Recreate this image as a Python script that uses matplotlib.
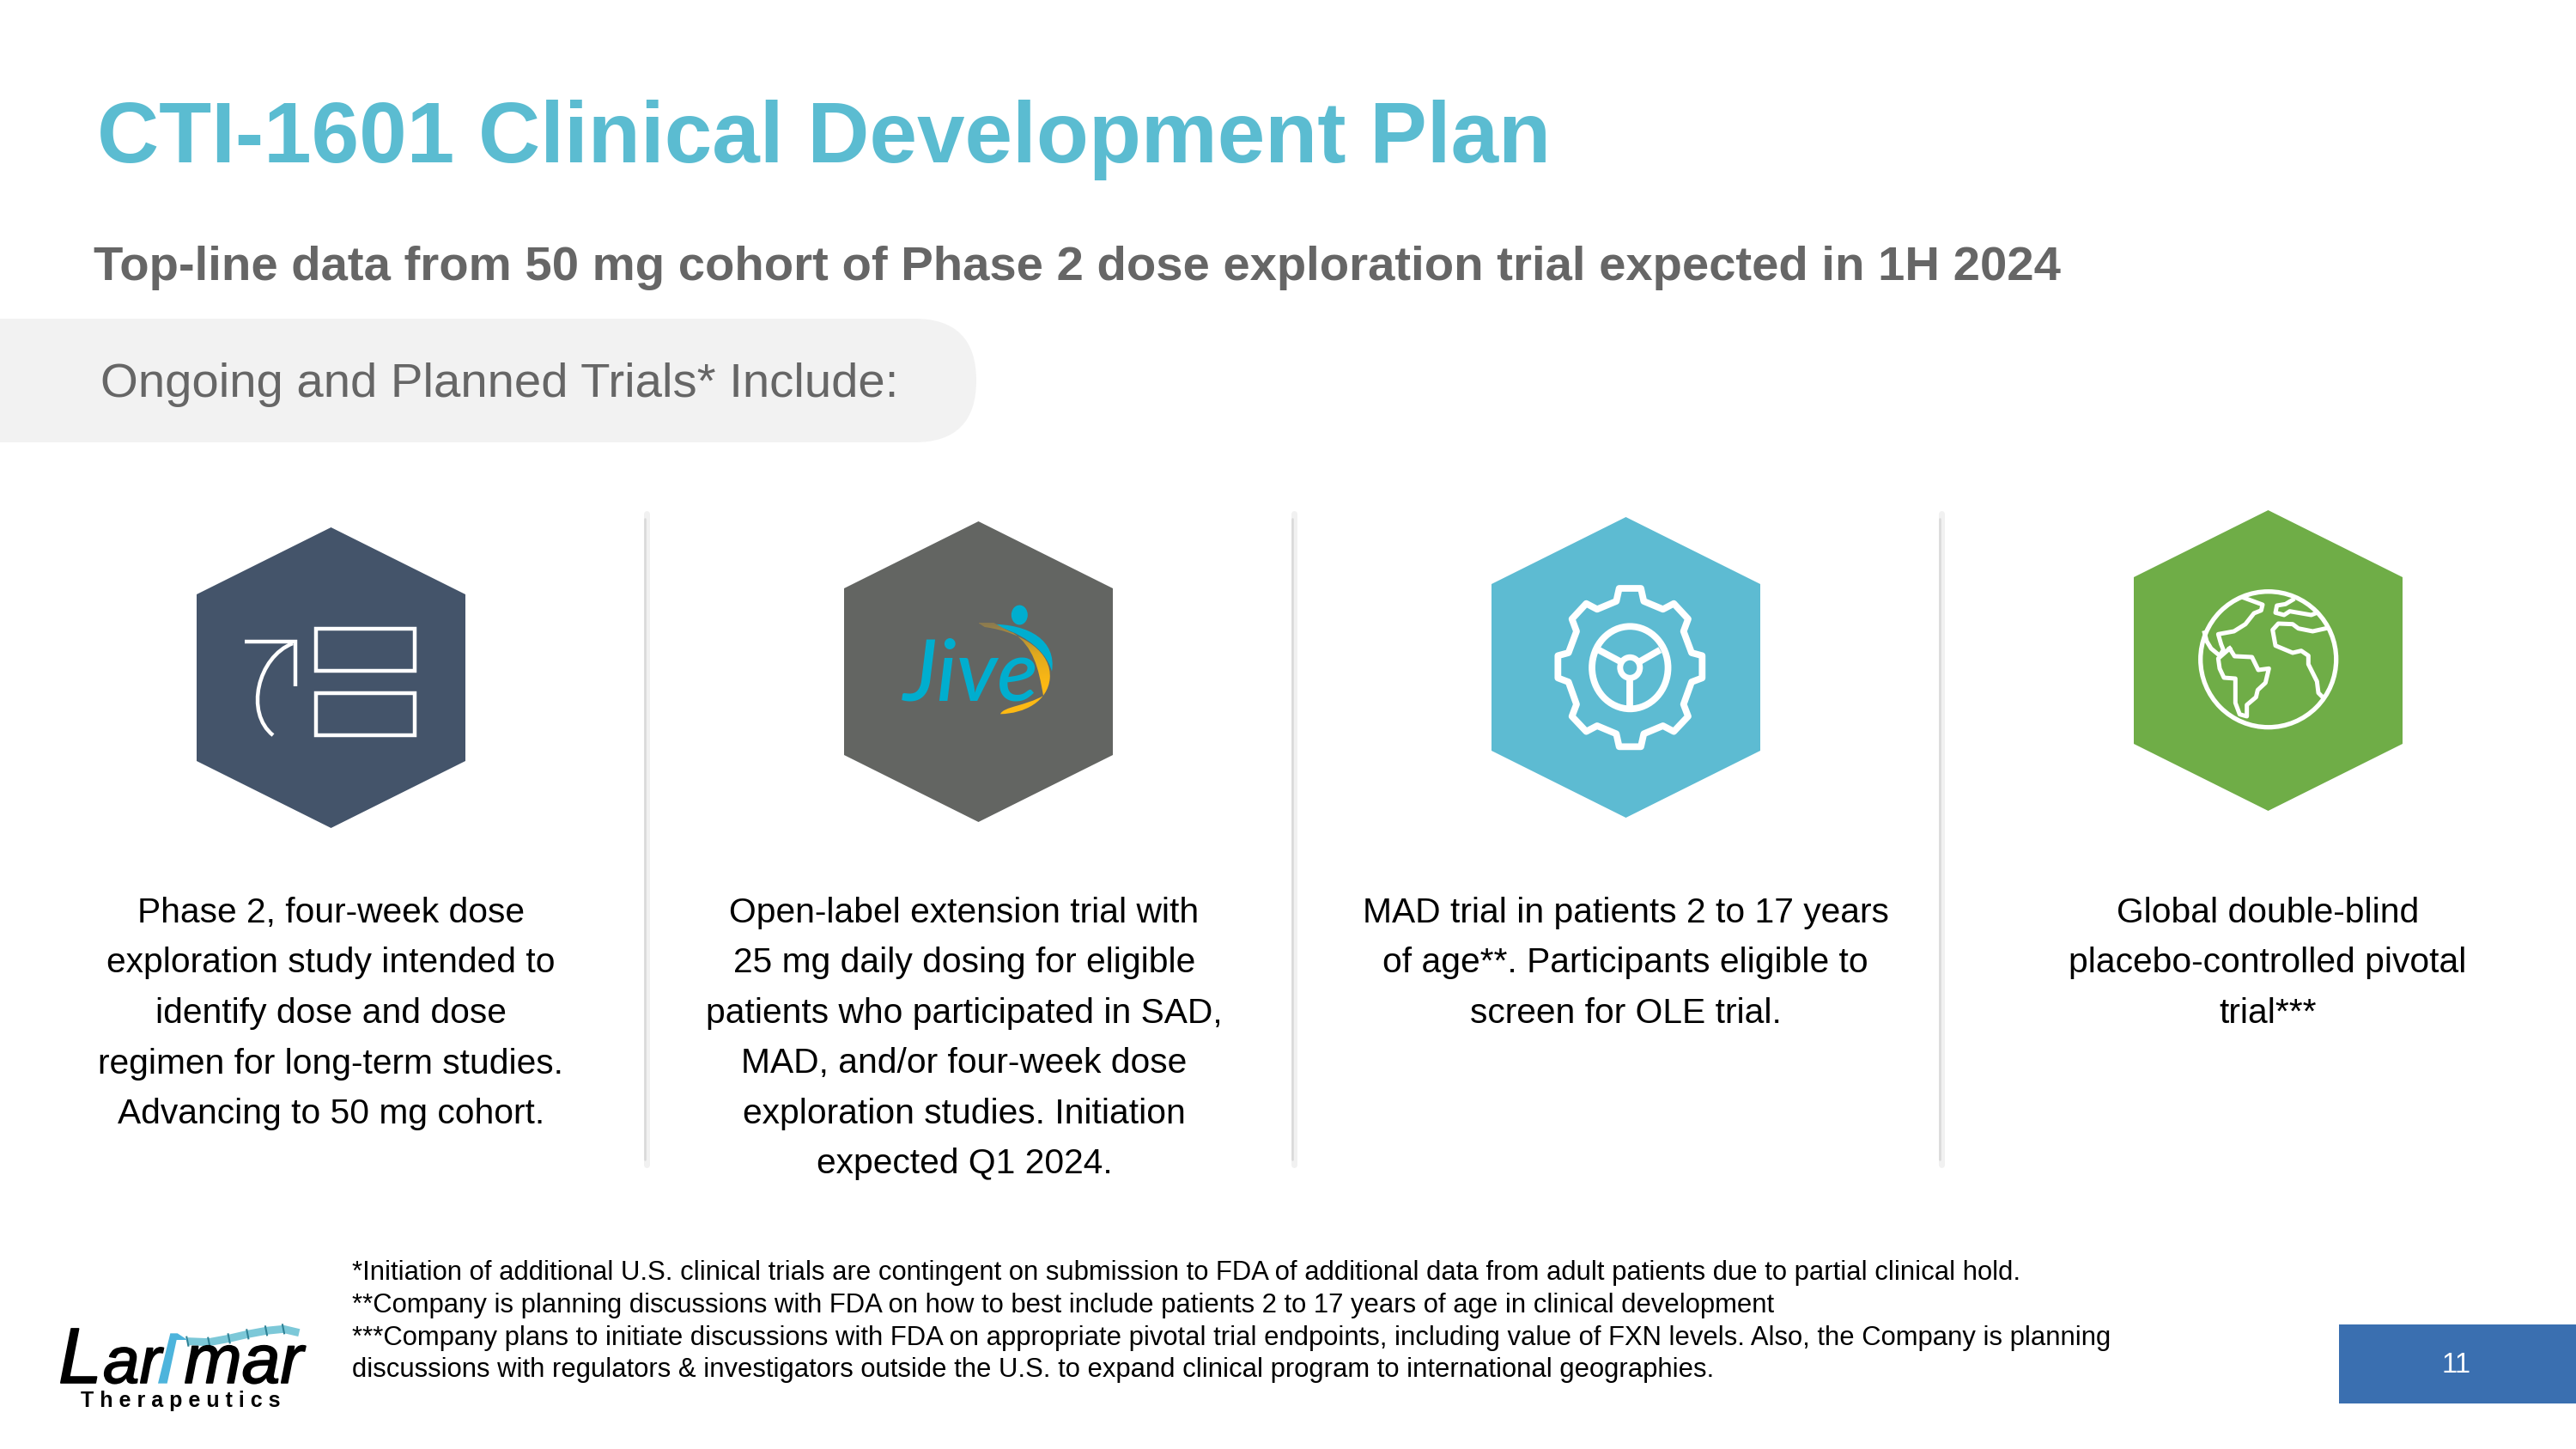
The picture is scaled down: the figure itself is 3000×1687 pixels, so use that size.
import numpy as np
import matplotlib
matplotlib.use('Agg')
import matplotlib.pyplot as plt
import matplotlib.patheffects as pe
from matplotlib.patches import Polygon, Ellipse, PathPatch, Rectangle, Circle
from matplotlib.path import Path
from matplotlib.colors import LinearSegmentedColormap

title = "CTI-1601 Clinical Development Plan"
subtitle = "Top-line data from 50 mg cohort of Phase 2 dose exploration trial expected in 1H 2024"
pill_text = "Ongoing and Planned Trials* Include:"
col1 = ["Phase 2, four-week dose", "exploration study intended to", "identify dose and dose",
        "regimen for long-term studies.", "Advancing to 50 mg cohort."]
col2 = ["Open-label extension trial with", "25 mg daily dosing for eligible",
        "patients who participated in SAD,", "MAD, and/or four-week dose",
        "exploration studies. Initiation", "expected Q1 2024."]
col3 = ["MAD trial in patients 2 to 17 years", "of age**. Participants eligible to", "screen for OLE trial."]
col4 = ["Global double-blind", "placebo-controlled pivotal", "trial***"]
notes = ["*Initiation of additional U.S. clinical trials are contingent on submission to FDA of additional data from adult patients due to partial clinical hold.",
         "**Company is planning discussions with FDA on how to best include patients 2 to 17 years of age in clinical development",
         "***Company plans to initiate discussions with FDA on appropriate pivotal trial endpoints, including value of FXN levels. Also, the Company is planning",
         "discussions with regulators & investigators outside the U.S. to expand clinical program to international geographies."]
page_no = "11"

plt.rcParams['font.family'] = ['Liberation Sans', 'DejaVu Sans']

fig = plt.figure(figsize=(30, 16.87), dpi=100)
ax = fig.add_axes([0, 0, 1, 1])
ax.set_xlim(0, 3000)
ax.set_ylim(1687, 0)
ax.axis('off')

GREY = '#666666'

# heading
ax.text(113, 189, title, fontsize=71.9, fontweight='bold', color='#5BBCD1', va='baseline')
ax.text(109, 326, subtitle, fontsize=40.5, fontweight='bold', color=GREY, va='baseline')

# pill behind the third line
pill = Path([(0, 371), (1065, 371), (1137, 371), (1137, 443), (1137, 515), (1065, 515), (0, 515), (0, 371)],
            [Path.MOVETO, Path.LINETO, Path.CURVE3, Path.CURVE3, Path.CURVE3, Path.CURVE3, Path.LINETO, Path.CLOSEPOLY])
ax.add_patch(PathPatch(pill, fc='#F2F2F2', ec='none'))
ax.text(117, 462, pill_text, fontsize=40.6, color=GREY, va='baseline')

# separators, soft shadowed rules
for x in [752, 1506, 2260]:
    ax.plot([x + 1, x + 1], [598, 1356], color='#F1F1F1', lw=5, solid_capstyle='round')
    ax.plot([x - 1, x - 1], [604, 1350], color='#D9D9D9', lw=1.8, solid_capstyle='round')

# hexagons
def hexagon(xl, xr, top, color):
    xc = (xl + xr) / 2
    pts = [(xc, top), (xr, top + 78), (xr, top + 272), (xc, top + 350), (xl, top + 272), (xl, top + 78)]
    ax.add_patch(Polygon(pts, fc=color, ec='none'))

hexagon(229, 542, 614, '#44546A')
hexagon(983, 1296, 607, '#636562')
hexagon(1737, 2050, 602, '#5DBBD2')
hexagon(2485, 2798, 594, '#6FAD47')

# zoom crop coords -> picture coords
def crop(pts, x0, y0):
    return [(x0 + a / 3, y0 + b / 3) for a, b in pts]

# icon 1
ax.add_patch(Rectangle((368.3, 732.3), 114.7, 48.7, fc='none', ec='white', lw=3.2))
ax.add_patch(Rectangle((368.3, 807), 114.7, 49, fc='none', ec='white', lw=3.2))
ax.plot([285, 344, 344], [747, 747, 799], color='white', lw=3.2, solid_joinstyle='miter', solid_capstyle='butt')
arc = Path([(341, 749), (300, 765), (285, 830), (318, 856)], [Path.MOVETO, Path.CURVE4, Path.CURVE4, Path.CURVE4])
ax.add_patch(PathPatch(arc, fc='none', ec='white', lw=3.2, capstyle='butt'))

# icon 2, Jive logo
TEAL = '#00AECF'
ax.text(1052, 815, "Jive", fontsize=71, style='italic', fontweight='medium', color=TEAL, va='baseline',
        family=['Lato', 'DejaVu Sans'])
ax.add_patch(Ellipse((1187.3, 716), 19, 23, fc=TEAL, ec='none'))
p = crop([(575, 410), (720, 408), (812, 470), (795, 575), (770, 490), (680, 435), (575, 410)], 960, 590)
ax.add_patch(PathPatch(Path(p, [1, 4, 4, 4, 4, 4, 4]), fc=TEAL, ec='none'))
p = crop([(560, 420), (700, 440), (795, 510), (788, 600), (780, 680), (700, 722), (615, 724),
          (625, 698), (705, 695), (765, 660), (748, 560), (730, 490), (660, 440), (560, 420)], 960, 590)
swoosh = PathPatch(Path(p, [1, 4, 4, 4, 4, 4, 4, 4, 4, 4, 4, 4, 4, 4]), fc='none', ec='none')
ax.add_patch(swoosh)
grad = LinearSegmentedColormap.from_list('g', ['#8a7a50', '#E0A91E', '#FDB913', '#FDB913'])
im = ax.imshow(np.linspace(0, 1, 64).reshape(-1, 1), extent=(1140, 1232, 832, 725), cmap=grad, aspect='auto', zorder=3)
im.set_clip_path(swoosh)
ax.set_xlim(0, 3000)
ax.set_ylim(1687, 0)

# icon 3, gear
gear = [(497, 285), (573, 285), (583, 330), (650, 358), (688, 338), (738, 392), (722, 435), (750, 510),
        (787, 520), (787, 598), (750, 612), (722, 690), (738, 732), (688, 785), (650, 765), (583, 793),
        (573, 838), (497, 838), (487, 793), (420, 765), (382, 785), (332, 732), (348, 690), (320, 612),
        (283, 598), (283, 520), (320, 510), (348, 435), (332, 392), (382, 338), (420, 358), (487, 330)]
ax.add_patch(Polygon(crop(gear, 1720, 590), fc='none', ec='white', lw=5.6, joinstyle='round'))
ax.add_patch(Ellipse((1898.3, 777.3), 88.5, 96, fc='none', ec='white', lw=5.6))
ax.add_patch(Ellipse((1898.3, 777.3), 23, 24, fc='none', ec='white', lw=5))
for seg in [[(535, 605), (535, 695)], [(500, 540), (425, 500)], [(570, 540), (640, 500)]]:
    s = crop(seg, 1720, 590)
    ax.plot([s[0][0], s[1][0]], [s[0][1], s[1][1]], color='white', lw=5.6, solid_capstyle='butt')

# icon 4, globe
ax.add_patch(Circle((2641.7, 767.7), 79, fc='none', ec='white', lw=3.8))
coast = [
    [(430, 318), (495, 342), (490, 362), (465, 372), (435, 410), (395, 435), (340, 445), (350, 480), (358, 500), (345, 520), (315, 495), (300, 470), (292, 440)],
    [(380, 495), (397, 522), (458, 525), (480, 570), (517, 565), (505, 615), (478, 640), (472, 665), (440, 692), (440, 732), (415, 725), (400, 685), (400, 600), (360, 597), (345, 565), (340, 530), (380, 495)],
    [(600, 325), (575, 340), (545, 345), (540, 370), (570, 378), (590, 365), (665, 378), (685, 370)],
    [(715, 425), (670, 435), (620, 425), (600, 410), (550, 408), (530, 430), (540, 485), (600, 510), (630, 503), (655, 520), (655, 550), (685, 610), (690, 650), (705, 665)],
]
for c in coast:
    c = np.array(crop(c, 2470, 590))
    ax.plot(c[:, 0], c[:, 1], color='white', lw=3.6, solid_joinstyle='round')

# column texts
for cx, lines in zip([385.5, 1123, 1893, 2641], [col1, col2, col3, col4]):
    for i, line in enumerate(lines):
        ax.text(cx, 1074 + i * 58.5, line, fontsize=29.3, color='black', ha='center', va='baseline')

# footnotes
for y, line in zip([1490, 1528, 1566, 1603], notes):
    ax.text(410, y, line, fontsize=22.35, color='black', va='baseline')

# page number box
ax.add_patch(Rectangle((2724, 1542), 276, 92, fc='#3A6FB0', ec='none'))
ax.text(2861, 1590, page_no, fontsize=23.5, color='white', ha='center', va='center')

# Larimar logo
thick = [pe.withStroke(linewidth=1.2, foreground='black')]
ax.text(68, 1610, "L", fontsize=66, style='italic', color='black', va='baseline', path_effects=thick)
ax.text(120, 1610, "ar", fontsize=55, style='italic', color='black', va='baseline', path_effects=thick)
ax.text(353, 1610, "mar", fontsize=58, style='italic', color='black', ha='right', va='baseline', path_effects=thick)
ax.add_patch(Polygon(crop([(432, 302), (464, 302), (497, 150), (535, 150), (500, 127), (475, 127)], 40, 1510),
                     fc='#4DB4DC', ec='none', zorder=4))
band = np.array(crop([(535, 155), (610, 158), (680, 145), (745, 130), (810, 118), (870, 112), (925, 125)], 40, 1510))
ax.plot(band[:, 0], band[:, 1], color='#7CC8D8', lw=6.5, solid_capstyle='butt')
for a, b in band[:-1]:
    ax.plot([a - 1, a + 1], [b - 5, b + 5], color='#2F8296', lw=1.5)
ax.text(210, 1638, " ".join("Therapeutics"), fontsize=18, fontweight='bold', color='black', ha='center', va='baseline')

fig.savefig('out.png', dpi=100)
